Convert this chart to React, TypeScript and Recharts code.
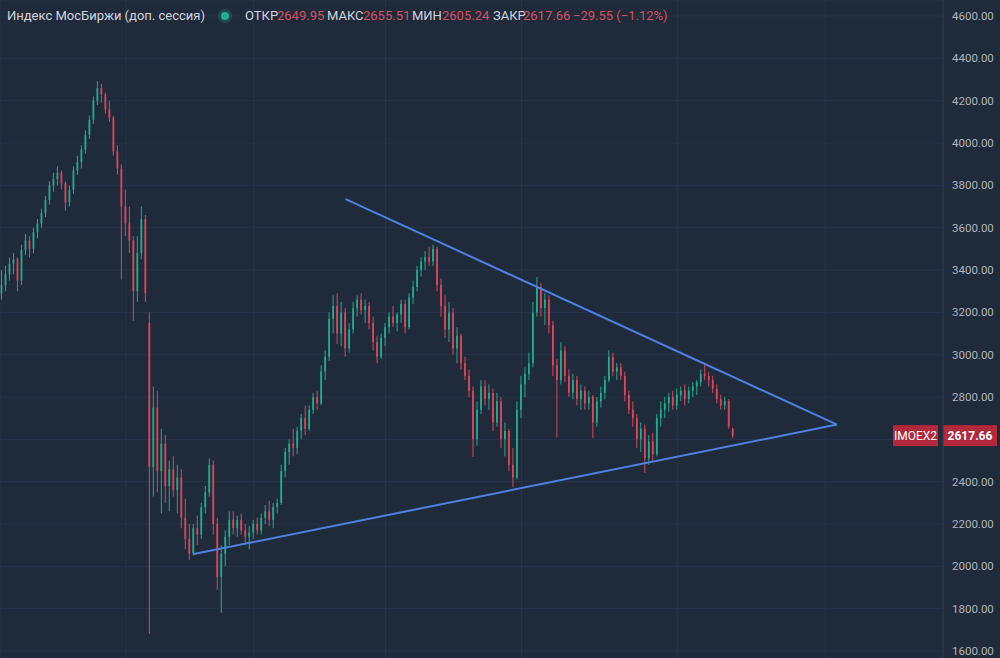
import { ComposedChart, Bar, XAxis, YAxis, CartesianGrid, ReferenceLine } from 'recharts';

const opens = [
  3290, 3330, 3380, 3430, 3450, 3350, 3495, 3540, 3500, 3580, 3620, 3670, 3730, 3800, 3830, 3860, 3810, 3720, 3780, 3870,
  3910, 3970, 4040, 4110, 4200, 4260, 4230, 4160, 4120, 3960, 3880, 3700, 3620, 3540, 3300, 3480, 3640, 3150, 2470, 2750,
  2450, 2580, 2380, 2460, 2360, 2420, 2230, 2130, 2060, 2180, 2150, 2280, 2350, 2480, 2200, 1950, 2060, 2140, 2220, 2180,
  2220, 2170, 2140, 2160, 2200, 2170, 2230, 2260, 2220, 2280, 2300, 2450, 2540, 2580, 2560, 2640, 2700, 2650, 2740, 2800,
  2770, 2920, 2990, 3170, 3230, 3100, 3200, 3030, 3120, 3220, 3260, 3210, 3230, 3150, 3060, 2990, 3080, 3130, 3180, 3150,
  3190, 3240, 3130, 3270, 3320, 3400, 3440, 3460, 3440, 3500, 3330, 3230, 3120, 3200, 3030, 3090, 2960, 2900, 2830, 2600,
  2740, 2850, 2790, 2820, 2680, 2780, 2600, 2640, 2480, 2420, 2740, 2860, 2910, 2960, 3200, 3320, 3220, 3260, 3140, 2950,
  2880, 3020, 2900, 2820, 2880, 2790, 2830, 2770, 2800, 2680, 2780, 2820, 2880, 2990, 2920, 2940, 2900, 2810, 2740, 2700,
  2600, 2650, 2510, 2590, 2530, 2700, 2740, 2770, 2800, 2760, 2810, 2830, 2790, 2830, 2850, 2870, 2910, 2900, 2880, 2840,
  2790, 2760, 2780, 2649.95,
];
const highs = [
  3400, 3420, 3460, 3480, 3460, 3520, 3570, 3560, 3600, 3640, 3690, 3750, 3820, 3860, 3890, 3870, 3820, 3800, 3890, 3940,
  3990, 4060, 4130, 4220, 4292, 4280, 4240, 4200, 4130, 3990, 3900, 3780, 3700, 3560, 3560, 3700, 3660, 3200, 2850, 2830,
  2650, 2620, 2500, 2520, 2480, 2460, 2320, 2200, 2200, 2240, 2300, 2380, 2510, 2500, 2230, 2100, 2170, 2260, 2260, 2240,
  2250, 2200, 2190, 2220, 2230, 2250, 2290, 2310, 2300, 2320, 2480, 2560, 2600, 2650, 2660, 2720, 2760, 2760, 2820, 2830,
  2950, 3020, 3200, 3280, 3290, 3250, 3220, 3150, 3250, 3280, 3290, 3260, 3250, 3180, 3090, 3100, 3150, 3200, 3230, 3200,
  3260, 3260, 3290, 3350, 3420, 3460, 3490, 3510, 3520, 3510, 3360, 3280, 3250, 3220, 3130, 3100, 2990, 2930, 2850, 2780,
  2880, 2880, 2860, 2840, 2820, 2800, 2680, 2650, 2560, 2780, 2900, 2940, 3010, 3250, 3367, 3340, 3290, 3280, 3160, 2980,
  3060, 3040, 2930, 2910, 2900, 2860, 2850, 2830, 2810, 2800, 2850, 2900, 3022, 3010, 2960, 2960, 2920, 2830, 2780, 2720,
  2680, 2670, 2620, 2630, 2720, 2780, 2800, 2820, 2830, 2840, 2850, 2860, 2850, 2870, 2880, 2930, 2961, 2920, 2900, 2860,
  2810, 2800, 2790, 2655.51,
];
const lows = [
  3260, 3300, 3350, 3380, 3300, 3330, 3470, 3460, 3480, 3550, 3600, 3650, 3710, 3770, 3800, 3780, 3680, 3700, 3760, 3850,
  3880, 3950, 4020, 4090, 4180, 4190, 4140, 4100, 3940, 3850, 3355, 3560, 3480, 3160, 3250, 3450, 3250, 1681, 2330, 2350,
  2250, 2300, 2260, 2330, 2250, 2180, 2080, 2030, 2050, 2100, 2130, 2250, 2330, 2150, 1890, 1780, 2000, 2100, 2150, 2140,
  2150, 2110, 2080, 2130, 2150, 2150, 2200, 2190, 2180, 2250, 2290, 2420, 2480, 2520, 2530, 2600, 2620, 2640, 2720, 2740,
  2760, 2880, 2970, 3100, 3050, 3040, 2990, 3010, 3100, 3180, 3190, 3150, 3120, 3020, 2960, 2980, 3040, 3100, 3130, 3110,
  3150, 3100, 3120, 3240, 3300, 3370, 3400, 3420, 3420, 3300, 3180, 3080, 3060, 3000, 2960, 2930, 2880, 2800, 2517, 2570,
  2720, 2760, 2740, 2640, 2660, 2560, 2520, 2450, 2375, 2410, 2700, 2800, 2880, 2940, 3180, 3180, 3140, 3100, 2900, 2610,
  2860, 2870, 2800, 2790, 2760, 2740, 2740, 2740, 2606, 2660, 2750, 2790, 2870, 2900, 2880, 2880, 2780, 2720, 2660, 2560,
  2540, 2441, 2480, 2500, 2520, 2660, 2700, 2730, 2740, 2740, 2780, 2760, 2770, 2800, 2810, 2850, 2880, 2850, 2820, 2770,
  2740, 2740, 2650, 2605.24,
];
const closes = [
  3330, 3380, 3430, 3450, 3350, 3495, 3540, 3500, 3580, 3620, 3670, 3730, 3800, 3830, 3860, 3810, 3720, 3780, 3870, 3910,
  3970, 4040, 4110, 4200, 4260, 4230, 4160, 4120, 3960, 3880, 3700, 3620, 3540, 3300, 3480, 3640, 3290, 2470, 2750, 2450,
  2580, 2380, 2460, 2360, 2420, 2230, 2130, 2060, 2180, 2150, 2280, 2350, 2480, 2200, 1950, 2060, 2140, 2220, 2180, 2220,
  2170, 2140, 2160, 2200, 2170, 2230, 2260, 2220, 2280, 2300, 2450, 2540, 2580, 2560, 2640, 2700, 2650, 2740, 2800, 2770,
  2920, 2990, 3170, 3230, 3100, 3200, 3030, 3120, 3220, 3260, 3210, 3230, 3150, 3060, 2990, 3080, 3130, 3180, 3150, 3190,
  3240, 3130, 3270, 3320, 3400, 3440, 3460, 3440, 3500, 3330, 3230, 3120, 3200, 3030, 3090, 2960, 2900, 2830, 2600, 2740,
  2850, 2790, 2820, 2680, 2780, 2600, 2640, 2480, 2420, 2740, 2860, 2910, 2960, 3200, 3320, 3220, 3260, 3140, 2950, 2880,
  3020, 2900, 2820, 2880, 2790, 2830, 2770, 2800, 2680, 2780, 2820, 2880, 2990, 2920, 2940, 2900, 2810, 2740, 2700, 2600,
  2650, 2510, 2590, 2530, 2700, 2740, 2770, 2800, 2760, 2810, 2830, 2790, 2830, 2850, 2870, 2910, 2900, 2880, 2840, 2790,
  2760, 2780, 2660, 2617.66,
];

// empty slots to the right of the last candle (chart is scrolled with free space)
const emptySlots = 52;
const gridTicks = [31, 63, 96, 130, 169, 206];
const priceTicks = [1600, 1800, 2000, 2200, 2400, 2600, 2800, 3000, 3200, 3400, 3600, 3800, 4000, 4200, 4400, 4600];

// trend lines drawn on the chart: [slot, price]
const upperLine = [[86, 3735], [209, 2670]];
const lowerLine = [[48, 2058], [209, 2670]];

const UP = '#22ab8c';
const DOWN = '#de4658';
const BG = '#1f2a3a';
const GRID = '#27334a';
const LINE = '#4d82e4';

const data = [
  ...closes.map((c, i) => ({ i, o: opens[i], h: highs[i], l: lows[i], c, range: [lows[i], highs[i]] })),
  ...Array.from({ length: emptySlots }, (_, k) => ({ i: closes.length + k })),
];

const lastClose = closes[closes.length - 1];

const Candle = (props: any) => {
  const { x, y, width, height, payload } = props;
  if (!payload || payload.o == null) return null;
  const top = Math.min(y, y + height);
  const bot = Math.max(y, y + height);
  const span = payload.h - payload.l;
  const py = (v: number) => (span === 0 ? top : top + ((payload.h - v) / span) * (bot - top));
  const color = payload.c >= payload.o ? UP : DOWN;
  const cx = x + width / 2;
  const bt = py(Math.max(payload.o, payload.c));
  const bb = py(Math.min(payload.o, payload.c));
  return (
    <g>
      <line x1={cx} x2={cx} y1={top} y2={bot} stroke={color} strokeWidth={1} />
      <rect x={cx - 0.9} y={bt} width={1.8} height={Math.max(1, bb - bt)} fill={color} />
    </g>
  );
};

// price tick, the one hidden behind the last-price tag is skipped
const PriceTick = (props: any) => {
  const { x, y, payload } = props;
  const v = payload.value;
  if (Math.abs(v - lastClose) < 40) return null;
  return (
    <text x={x - 4} y={y + 4} fill="#b2b5be" fontSize={11.5} fontFamily="Roboto">
      {v.toFixed(2)}
    </text>
  );
};

const PriceTag = (props: any) => {
  const vb = props.viewBox;
  if (!vb) return null;
  const right = vb.x + vb.width;
  const cy = vb.y;
  return (
    <g>
      <rect x={right - 50} y={cy - 10.5} width={45} height={21} fill="#b3283a" />
      <text x={right - 27.5} y={cy + 4.5} textAnchor="middle" fill="#fff" fontSize={12} fontFamily="Roboto">IMOEX2</text>
      <rect x={right} y={cy - 10.5} width={54} height={21} fill="#b3283a" />
      <text x={right + 27} y={cy + 4.5} textAnchor="middle" fill="#fff" fontSize={12} fontWeight={700} fontFamily="Roboto">
        {lastClose.toFixed(2)}
      </text>
    </g>
  );
};

const headerStyle: any = { position: 'absolute', top: 8, fontFamily: 'Roboto', fontSize: 13, lineHeight: '16px', whiteSpace: 'nowrap' };
const lab = '#d1d4dc';
const val = '#d4525e';

export default function App() {
  const last = closes.length - 1;
  return (
    <div style={{ position: 'relative', width: 1000, height: 658, background: BG, overflow: 'hidden' }}>
      <style>{`body{margin:0;background:${BG};}`}</style>
      <ComposedChart width={1000} height={658} data={data} margin={{ top: 0, right: 0, bottom: 0, left: 0 }}>
        <CartesianGrid stroke={GRID} strokeWidth={1} />
        <XAxis dataKey="i" type="category" hide ticks={gridTicks} interval={0} />
        <YAxis
          orientation="right"
          width={57}
          type="number"
          domain={[1567, 4676]}
          allowDataOverflow
          ticks={priceTicks}
          interval={0}
          tickLine={false}
          tickMargin={7}
          axisLine={{ stroke: '#2f3b4f' }}
          tick={<PriceTick />}
        />
        <Bar dataKey="range" barSize={3} shape={<Candle />} isAnimationActive={false} />
        <ReferenceLine
          segment={upperLine.map(([x, y]) => ({ x, y }))}
          stroke={LINE}
          strokeWidth={2}
          ifOverflow="visible"
        />
        <ReferenceLine
          segment={lowerLine.map(([x, y]) => ({ x, y }))}
          stroke={LINE}
          strokeWidth={2}
          ifOverflow="visible"
        />
        <ReferenceLine y={lastClose} stroke="none" label={<PriceTag />} ifOverflow="visible" />
      </ComposedChart>
      <span style={{ ...headerStyle, left: 7, color: lab }}>Индекс МосБиржи (доп. сессия)</span>
      <span style={{ position: 'absolute', left: 218, top: 9, width: 14, height: 14, borderRadius: 7, background: 'rgba(34,176,141,0.25)' }} />
      <span style={{ position: 'absolute', left: 221, top: 12, width: 8, height: 8, borderRadius: 4, background: UP }} />
      <span style={{ ...headerStyle, left: 245, color: lab }}>ОТКР</span>
      <span style={{ ...headerStyle, left: 277, color: val }}>{opens[last].toFixed(2)}</span>
      <span style={{ ...headerStyle, left: 327, color: lab }}>МАКС</span>
      <span style={{ ...headerStyle, left: 363, color: val }}>{highs[last].toFixed(2)}</span>
      <span style={{ ...headerStyle, left: 412, color: lab }}>МИН</span>
      <span style={{ ...headerStyle, left: 442, color: val }}>{lows[last].toFixed(2)}</span>
      <span style={{ ...headerStyle, left: 493, color: lab }}>ЗАКР</span>
      <span style={{ ...headerStyle, left: 523, color: val }}>{lastClose.toFixed(2)}</span>
      <span style={{ ...headerStyle, left: 573, color: val }}>{'\u221229.55 (\u22121.12%)'}</span>
    </div>
  );
}
